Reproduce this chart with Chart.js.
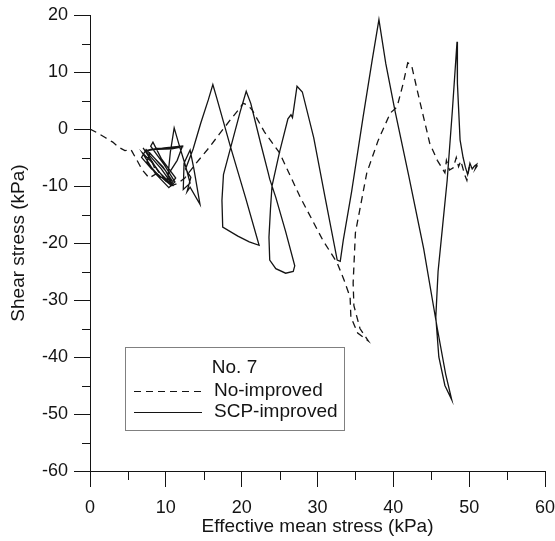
<!DOCTYPE html>
<html><head><meta charset="utf-8">
<script src="https://cdn.jsdelivr.net/npm/chart.js@4/dist/chart.umd.min.js"></script>
<style>html,body{margin:0;padding:0;background:#fff}#c{display:block}</style>
</head><body>
<canvas id="c" width="555" height="541"></canvas>
<script>
// ---- data (kPa) ----
const seriesNames = ["No-improved", "SCP-improved"];
const legendTitle = "No. 7";
const xTitle = "Effective mean stress (kPa)";
const yTitle = "Shear stress (kPa)";
const xRange = [0, 60];
const yRange = [-60, 20];

const noImprovedP = [0, 1.0, 2.0, 3.0, 3.8, 4.6, 5.4, 6.2, 6.9, 7.8, 8.8, 8.2, 9.4, 10.6, 11.5, 12.5, 14.0, 15.5, 17.0, 18.5, 19.6, 20.2, 20.8, 21.4, 23.0, 25.0, 27.7, 30.7, 32.6, 33.5, 34.3, 34.4, 35.3, 36.7, 35.6, 34.8, 34.7, 35.0, 36.5, 38.0, 39.6, 40.5, 41.3, 41.9, 42.4, 43.2, 44.0, 44.8, 45.8, 46.8, 47.0, 47.4, 47.9, 48.3, 48.6, 48.9, 49.4, 49.7, 50.0, 50.4];
const noImprovedQ = [0, -0.7, -1.5, -2.3, -3.2, -3.8, -3.6, -5.5, -7.2, -8.6, -7.8, -5.8, -8.2, -10.0, -9.6, -8.6, -6.0, -3.6, -1.0, 1.6, 3.4, 4.5, 4.2, 3.3, -0.5, -4.2, -11.9, -19.5, -23.5, -26.5, -29.5, -33.0, -35.8, -37.2, -35.0, -31.0, -27.0, -18.2, -7.7, -2.0, 2.8, 3.9, 8.0, 11.6, 11.2, 6.5, 2.0, -2.5, -5.5, -7.7, -5.5, -7.2, -6.8, -5.0, -6.6, -5.6, -8.0, -9.0, -6.8, -6.5];

const scpP = [7.0, 9.0, 10.9, 10.0, 8.0, 6.9, 8.6, 10.4, 11.2, 9.8, 8.0, 8.3, 9.4, 11.3, 10.6, 8.1, 6.8, 7.4, 9.6, 10.8, 9.2, 7.5, 7.9, 10.0, 11.0, 9.4, 7.3, 8.8, 10.5, 12.3, 10.8, 8.0, 7.2, 9.8, 12.2, 11.5, 10.3, 10.6, 11.1, 11.8, 12.6, 13.2, 12.3, 12.4, 13.2, 13.7, 14.5, 13.2, 12.8, 13.3, 12.6, 13.6, 14.6, 15.6, 16.2, 16.7, 18.5, 20.5, 22.3, 21.0, 19.5, 17.5, 17.4, 17.6, 18.8, 19.8, 20.6, 21.2, 22.5, 23.5, 23.7, 24.5, 25.8, 27.0, 26.8, 25.8, 24.5, 23.7, 23.6, 23.8, 24.0, 25.0, 26.1, 26.5, 26.7, 27.3, 28.0, 29.5, 31.0, 32.6, 33.0, 33.4, 34.5, 36.0, 37.2, 38.1, 39.0, 40.2, 42.0, 44.0, 45.8, 46.9, 47.7, 46.8, 46.0, 45.6, 45.9, 46.5, 47.1, 47.8, 48.4, 48.45, 48.8, 49.2, 49.5, 49.8, 50.1, 50.4, 50.7, 51.0, 50.8, 51.1];
const scpQ = [-3.3, -7.4, -9.9, -9.0, -5.6, -4.2, -7.8, -10.3, -9.3, -6.3, -3.0, -2.3, -5.2, -8.6, -9.8, -7.0, -5.0, -3.6, -6.6, -9.0, -8.4, -5.8, -4.2, -7.4, -10.0, -7.0, -3.8, -3.4, -3.3, -3.1, -3.5, -3.6, -3.9, -3.3, -3.0, -5.5, -8.0, -4.0, 0.2, -3.0, -6.5, -9.5, -10.6, -6.0, -3.7, -7.0, -13.2, -10.2, -11.0, -8.5, -7.0, -3.5, 1.0, 5.1, 7.8, 5.5, -3.0, -12.0, -20.4, -19.8, -18.8, -17.2, -12.5, -8.0, -2.0, 3.0, 6.6, 4.5, -2.5, -7.7, -8.8, -12.0, -18.0, -24.0, -25.0, -25.3, -24.5, -23.0, -19.0, -14.0, -10.0, -4.0, 1.8, 2.5, 2.0, 7.5, 6.5, -1.5, -12.0, -23.0, -23.2, -19.5, -11.0, 2.0, 12.0, 19.2, 11.5, 3.3, -8.0, -21.0, -35.0, -43.0, -47.5, -45.0, -40.0, -33.0, -25.0, -17.0, -9.0, 3.5, 15.3, 8.0, -1.9, -5.0, -6.7, -8.0, -6.0, -7.0, -6.5, -6.2, -7.0, -6.4];

const toPts = (xs, ys) => xs.map((x, i) => ({x, y: ys[i]}));
const FONT = "'Liberation Sans', Arial, sans-serif";
const INK = '#141414';

const minorTicks = {
  id: 'minorTicks',
  afterDraw(chart) {
    const {ctx, scales: {x, y}} = chart;
    ctx.save();
    ctx.strokeStyle = INK; ctx.lineWidth = 1;
    ctx.beginPath();
    for (let v = xRange[0] + 5; v < xRange[1]; v += 10) {
      const px = Math.round(x.getPixelForValue(v)) + 0.5;
      ctx.moveTo(px, y.bottom); ctx.lineTo(px, y.bottom + 9);
    }
    for (let v = yRange[0] + 5; v < yRange[1]; v += 10) {
      const py = Math.round(y.getPixelForValue(v)) + 0.5;
      ctx.moveTo(x.left, py); ctx.lineTo(x.left - 8, py);
    }
    ctx.stroke();
    ctx.restore();
  }
};

const boxLegend = {
  id: 'boxLegend',
  afterDraw(chart) {
    const {ctx} = chart;
    const L = 125, T = 347, R = 344, B = 430;
    ctx.save();
    ctx.strokeStyle = '#808080'; ctx.lineWidth = 1;
    ctx.strokeRect(L + 0.5, T + 0.5, R - L, B - T);
    ctx.fillStyle = INK;
    ctx.font = "19px " + FONT;
    ctx.textBaseline = 'middle';
    ctx.textAlign = 'center';
    ctx.fillText(legendTitle, (L + R) / 2, 368);
    ctx.textAlign = 'left';
    const rows = [391, 412];
    chart.data.datasets.forEach((ds, i) => {
      const yy = rows[i] + 0.5;
      ctx.strokeStyle = INK; ctx.lineWidth = 1.2;
      ctx.setLineDash(ds.borderDash || []);
      ctx.beginPath(); ctx.moveTo(134, yy); ctx.lineTo(202, yy); ctx.stroke();
      ctx.setLineDash([]);
      ctx.fillText(ds.label, 214, rows[i]);
    });
    ctx.restore();
  }
};

new Chart(document.getElementById('c'), {
  type: 'scatter',
  data: {
    datasets: [
      {label: seriesNames[0], data: toPts(noImprovedP, noImprovedQ), showLine: true, borderColor: INK, borderWidth: 1.3, borderDash: [7, 5], pointRadius: 0, tension: 0},
      {label: seriesNames[1], data: toPts(scpP, scpQ), showLine: true, borderColor: INK, borderWidth: 1.3, pointRadius: 0, tension: 0}
    ]
  },
  options: {
    responsive: false,
    animation: false,
    layout: {padding: {top: 15, right: 0, left: 0, bottom: 0}},
    plugins: {legend: {display: false}, tooltip: {enabled: false}},
    scales: {
      x: {
        type: 'linear', min: xRange[0], max: xRange[1],
        afterFit(s) { s.height = 70; s.paddingRight = 10; s.paddingLeft = 0; },
        ticks: {stepSize: 10, color: INK, font: {family: FONT, size: 18}, padding: 10, maxRotation: 0},
        grid: {drawOnChartArea: false, tickLength: 16, tickColor: INK, color: INK},
        border: {color: INK, width: 1},
        title: {display: true, text: xTitle, color: INK, font: {family: FONT, size: 19}, padding: {top: 0, bottom: 3}}
      },
      y: {
        type: 'linear', min: yRange[0], max: yRange[1],
        afterFit(s) { s.width = 90; s.paddingTop = 0; s.paddingBottom = 0; },
        ticks: {stepSize: 10, color: INK, font: {family: FONT, size: 18}, padding: 6},
        grid: {drawOnChartArea: false, tickLength: 16, tickColor: INK, color: INK},
        border: {color: INK, width: 1},
        title: {display: true, text: yTitle, color: INK, font: {family: FONT, size: 19}, padding: {top: 7, bottom: 0}}
      }
    }
  },
  plugins: [minorTicks, boxLegend]
});
</script>
</body></html>
